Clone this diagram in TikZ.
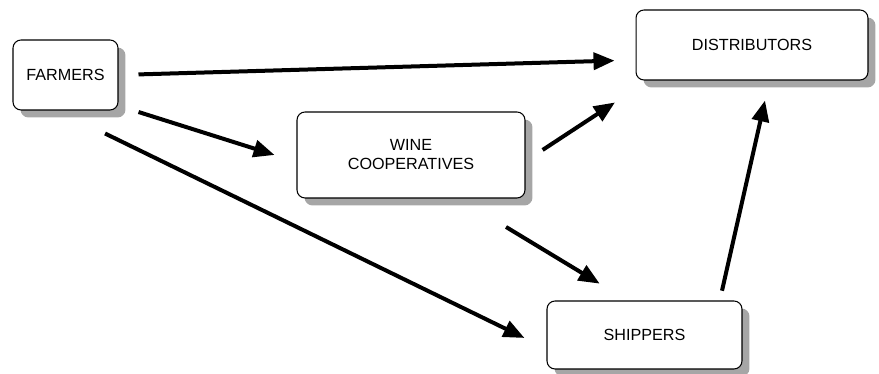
\documentclass[tikz,border=0pt]{standalone}
\usepackage{fontspec}
\setmainfont{Liberation Sans}
\usetikzlibrary{arrows.meta,shadows}
\begin{document}
\begin{tikzpicture}[x=0.02cm,y=-0.02cm,
  box/.style={draw, rounded corners=0.16cm, line width=0.6pt, fill=white,
    align=center, inner sep=0pt, font=\fontsize{9.2}{10.8}\selectfont,
    drop shadow={shadow xshift=0.15cm, shadow yshift=-0.15cm, fill=black!35, opacity=1}},
  flow/.style={line width=0.08cm, -{Triangle[length=0.42cm,width=0.34cm]}}]
\useasboundingbox (0,0) rectangle (879,374);
\node[box, minimum width=2.1cm, minimum height=1.4cm] (farmers) at (65.5,75) {FARMERS};
\node[box, minimum width=4.64cm, minimum height=1.4cm] (dist) at (752,45) {DISTRIBUTORS};
\node[box, minimum width=4.56cm, minimum height=1.72cm] (wine) at (411,155) {WINE\\COOPERATIVES};
\node[box, minimum width=3.9cm, minimum height=1.36cm] (ship) at (644.5,335) {SHIPPERS};
\draw[flow, shorten <=0.4cm, shorten >=0.42cm] (farmers.east) to ([shift={(0,15)}]dist.west);
\draw[flow, shorten <=0.42cm, shorten >=0.46cm] ([shift={(0,30.7)}]farmers.east) to ([shift={(0,6.9)}]wine.west);
\draw[flow, shorten <=1.05cm, shorten >=0.49cm] ([shift={(-7.6,0)}]farmers.south) to ([shift={(0,13.7)}]ship.west);
\draw[flow, shorten <=0.41cm, shorten >=0.8cm] ([shift={(0,6.2)}]wine.east) to ([shift={(-103.6,0)}]dist.south);
\draw[flow, shorten <=1.1cm, shorten >=0.65cm] ([shift={(48,0)}]wine.south) to ([shift={(-17,0)}]ship.north);
\draw[flow, shorten <=0.2cm, shorten >=0.41cm] ([shift={(75.3,0)}]ship.north) to ([shift={(17.5,0)}]dist.south);
\end{tikzpicture}
\end{document}
